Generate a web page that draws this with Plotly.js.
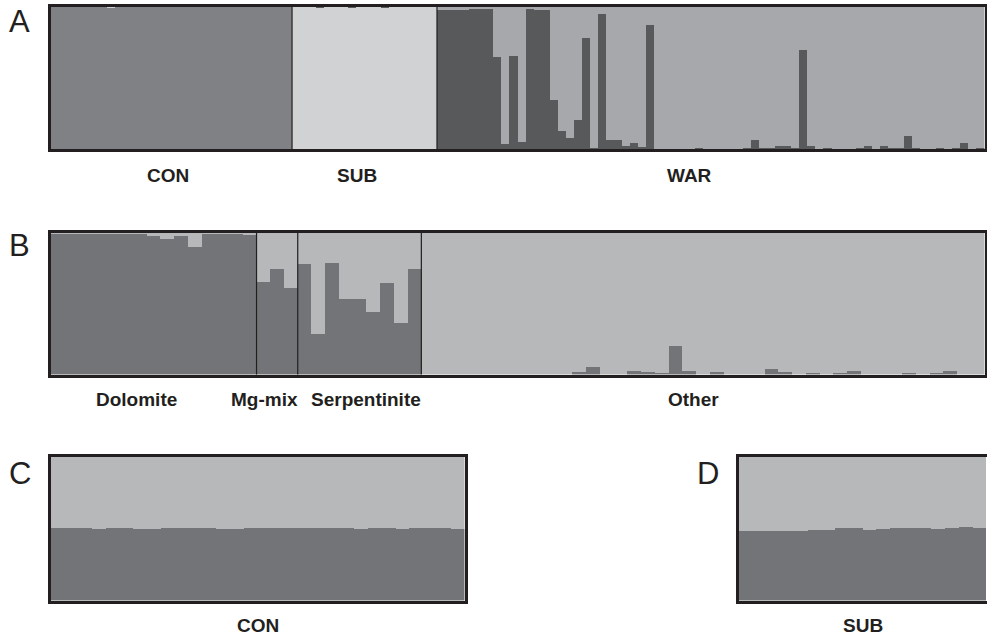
<!DOCTYPE html>
<html>
<head>
<meta charset="utf-8">
<script src="https://cdn.plot.ly/plotly-3.0.1.min.js"></script>
<style>html,body{margin:0;padding:0;background:#fff;}#chart{width:987px;height:636px;}</style>
</head>
<body>
<div id="chart"></div>
<script>
// ---------- DATA ----------
// Panel A: membership of each individual in its main cluster
const aGroups = ["CON", "SUB", "WAR"];
const aCON = [1,1,1,1,1,1,1,0.99,1,1,1,1,1,1,1,1,1,1,1,1,1,1,1,1,1,1,1,1,1,1];
const aSUB = [1,1,1,0.99,1,1,1,0.99,1,1,1,0.99,1,1,1,1,1,1];
// WAR: dark-cluster fraction (remainder = light WAR cluster)
const aWARdark = [0.98,0.98,0.98,0.98,0.985,0.985,0.985,0.649,0.035,0.655,0.05,0.985,0.98,0.98,
  0.345,0.127,0.077,0.204,0.782,0.01,0.95,0.063,0.063,0.02,0.042,0.014,0.873,
  0.005,0.005,0.005,0.005,0.005,0.01,0.005,0.005,0.005,0.005,0.005,0.01,0.065,0.01,0.01,
  0.02,0.02,0.01,0.698,0.025,0.005,0.01,0.005,0.003,0.003,0.01,0.025,0.005,0.02,0.01,0.01,
  0.095,0.01,0.003,0.003,0.01,0.003,0.01,0.042,0.003,0.01];

// Panel B: dark-cluster fraction per individual (remainder = light cluster)
const bGroups = ["Dolomite", "Mg-mix", "Serpentinite", "Other"];
const bDolomite = [0.996,0.996,0.996,0.996,0.996,0.996,0.996,0.982,0.958,0.98,0.904,0.995,0.995,0.995,0.988];
const bMgmix = [0.654,0.746,0.611];
const bSerpentinite = [0.781,0.286,0.788,0.534,0.534,0.444,0.647,0.364,0.746];
const bOther = [0,0,0,0,0,0,0,0,0,0,0,0.016,0.052,0,0,0.023,0.016,0.009,0.20,0.023,
  0,0.016,0,0,0,0.038,0.016,0,0.009,0,0.009,0.023,0,0,0,0.009,0,0.009,0.023,0,0];

// Panel C (CON) and D (SUB): dark-cluster fraction
const cGroup = "CON";
const cCON = [0.502,0.502,0.502,0.497,0.502,0.502,0.497,0.497,0.502,0.502,0.502,0.502,0.497,0.497,0.502,
  0.502,0.502,0.502,0.502,0.502,0.502,0.502,0.497,0.502,0.502,0.497,0.502,0.502,0.502,0.497];
const dGroup = "SUB";
const dSUB = [0.486,0.486,0.486,0.486,0.486,0.493,0.493,0.505,0.505,0.493,0.50,0.505,0.505,0.505,0.498,0.505,0.512,0.505];

// ---------- STYLE ----------
const FRAME = "#231f20";
const colA = {con:"#808185", sub:"#d1d2d4", warDark:"#58595b", warLight:"#a7a8ab"};
const colB = {dark:"#737477", light:"#b7b8ba"};
const W = 987, H = 636;
const px = v => v / W;
const py = v => 1 - v / H;

const idx = n => Array.from({length:n}, (_, i) => i);
const zeros = n => Array.from({length:n}, () => 0);
const comp = arr => arr.map(v => 1 - v);

function bar(xa, ya, x, y, color) {
  return {type:"bar", x:x, y:y, xaxis:xa, yaxis:ya, width:1,
    marker:{color:color, line:{width:0}}, hoverinfo:"skip", showlegend:false};
}

// Panel A traces
const nC = aCON.length, nS = aSUB.length, nW = aWARdark.length, nA = nC + nS + nW;
const xA = idx(nA);
const traces = [
  bar("x","y", xA, aCON.concat(zeros(nS + nW)), colA.con),
  bar("x","y", xA, comp(aCON).concat(aSUB, zeros(nW)), colA.sub),
  bar("x","y", xA, zeros(nC).concat(comp(aSUB), aWARdark), colA.warDark),
  bar("x","y", xA, zeros(nC + nS).concat(comp(aWARdark)), colA.warLight)
];
// Panel B traces
const bAll = bDolomite.concat(bMgmix, bSerpentinite, bOther);
const xB = idx(bAll.length);
traces.push(bar("x2","y2", xB, bAll, colB.dark));
traces.push(bar("x2","y2", xB, comp(bAll), colB.light));
// Panel C
traces.push(bar("x3","y3", idx(cCON.length), cCON, colB.dark));
traces.push(bar("x3","y3", idx(cCON.length), comp(cCON), colB.light));
// Panel D
traces.push(bar("x4","y4", idx(dSUB.length), dSUB, colB.dark));
traces.push(bar("x4","y4", idx(dSUB.length), comp(dSUB), colB.light));

function xax(domain, n, anchor, mirror) {
  return {domain:domain, anchor:anchor, range:[-0.5, n - 0.5], showgrid:false, zeroline:false,
    showticklabels:false, ticks:"", showline:true, mirror:mirror, linecolor:FRAME, linewidth:3,
    fixedrange:true, layer:"above traces"};
}
function yax(domain, anchor, mirror) {
  return {domain:domain, anchor:anchor, range:[0,1], showgrid:false, zeroline:false,
    showticklabels:false, ticks:"", showline:true, mirror:mirror, linecolor:FRAME, linewidth:3,
    fixedrange:true, layer:"above traces"};
}

// group separators
const shapes = [];
function sep(xref, yref, pos) {
  shapes.push({type:"line", xref:xref, yref:yref + " domain", x0:pos, x1:pos, y0:0, y1:1,
    line:{color:FRAME, width:1.2}});
}
sep("x","y", nC - 0.5);
sep("x","y", nC + nS - 0.5);
sep("x2","y2", bDolomite.length - 0.5);
sep("x2","y2", bDolomite.length + bMgmix.length - 0.5);
sep("x2","y2", bDolomite.length + bMgmix.length + bSerpentinite.length - 0.5);

// labels
const labFont = {family:"Liberation Sans, Arial, sans-serif", size:19, color:"#231f20"};
const letFont = {family:"Liberation Sans, Arial, sans-serif", size:31, color:"#231f20"};
function lab(text, x, y, font) {
  return {text:text, x:px(x), y:py(y), xref:"paper", yref:"paper", showarrow:false,
    xanchor:"center", yanchor:"middle", font:font};
}
const annotations = [
  lab("A", 19.5, 22, letFont), lab("B", 19.5, 245, letFont),
  lab("C", 19.5, 473, letFont), lab("D", 708, 473, letFont),
  lab("<b>" + aGroups[0] + "</b>", 168, 175, labFont),
  lab("<b>" + aGroups[1] + "</b>", 357, 175, labFont),
  lab("<b>" + aGroups[2] + "</b>", 689, 175, labFont),
  lab("<b>" + bGroups[0] + "</b>", 136, 399, labFont),
  lab("<b>" + bGroups[1] + "</b>", 264.5, 399, labFont),
  lab("<b>" + bGroups[2] + "</b>", 365.5, 399, labFont),
  lab("<b>" + bGroups[3] + "</b>", 693, 399, labFont),
  lab("<b>" + cGroup + "</b>", 258, 625.5, labFont),
  lab("<b>" + dGroup + "</b>", 862.5, 625.5, labFont)
];

const layout = {
  width:W, height:H, margin:{l:0, r:0, t:0, b:0},
  paper_bgcolor:"#ffffff", plot_bgcolor:"#ffffff",
  barmode:"stack", bargap:0, showlegend:false,
  xaxis: xax([px(50.5), px(984.5)], nA, "y", true),
  yaxis: yax([py(149.3), py(7)], "x", true),
  xaxis2: xax([px(50.5), px(984.5)], bAll.length, "y2", true),
  yaxis2: yax([py(374.5), py(233)], "x2", true),
  xaxis3: xax([px(50.5), px(464.5)], cCON.length, "y3", true),
  yaxis3: yax([py(600.5), py(457)], "x3", true),
  xaxis4: xax([px(739), 1], dSUB.length, "y4", true),
  yaxis4: yax([py(600.5), py(457)], "x4", false),
  shapes:shapes, annotations:annotations
};
layout.xaxis4.range = [-0.5, dSUB.length - 0.45];
Plotly.newPlot("chart", traces, layout, {staticPlot:true, displayModeBar:false});
</script>
</body>
</html>
